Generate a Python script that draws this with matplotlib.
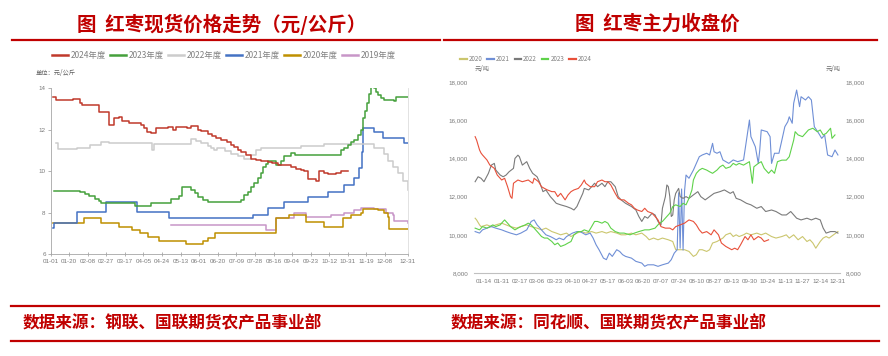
import matplotlib
matplotlib.use("Agg")
import matplotlib.pyplot as plt
from matplotlib import font_manager
from matplotlib.lines import Line2D
import pandas as pd

plt.rcParams['font.family'] = ['Noto Sans CJK SC', 'DejaVu Sans']
names = {f.name for f in font_manager.fontManager.ttflist}
tick_font = 'Liberation Sans Narrow' if 'Liberation Sans Narrow' in names else 'Liberation Sans'

RED = '#c00000'

# ---- left: spot price, yuan/kg, day of year (2024 calendar)
spot_2024_day = [3, 6, 23, 30, 32, 50, 60, 65, 70, 73, 80, 93, 96, 99, 103, 108, 120, 125, 128, 140, 144, 151, 154,
                 161, 165, 169, 174, 180, 185, 188, 192, 195, 200, 205, 210, 215, 222, 226, 233, 239, 246, 251, 256,
                 259, 263, 271, 274, 280, 284, 292, 297, 304]
spot_2024_val = [13.58, 13.4, 13.48, 13.3, 13.18, 12.86, 12.2, 12.55, 12.6, 12.4, 12.3, 12.2, 12.05, 11.9, 11.85, 12.05,
                 12.1, 12.0, 12.1, 12.05, 12.15, 12.0, 11.95, 11.8, 11.7, 11.6, 11.5, 11.4, 11.25, 11.15, 11.0, 10.9,
                 10.75, 10.6, 10.55, 10.5, 10.45, 10.4, 10.3, 10.3, 10.2, 10.1, 10.05, 10.0, 9.6, 9.5, 10.0, 9.9, 9.85,
                 9.9, 10.0, 10.0]
spot_2023_day = [4, 27, 30, 35, 39, 45, 50, 52, 86, 103, 121, 123, 131, 134, 141, 144, 148, 151, 156, 161, 188, 195,
                 198, 202, 205, 208, 212, 215, 217, 220, 222, 229, 231, 236, 239, 246, 250, 290, 297, 300, 304, 307,
                 310, 314, 317, 320, 322, 324, 326, 328, 331, 333, 335, 338, 341, 351, 353, 365]
spot_2023_val = [9.05, 9.05, 9.0, 8.9, 8.8, 8.65, 8.55, 8.47, 8.3, 8.45, 8.45, 8.65, 8.8, 9.25, 9.25, 9.1, 8.95, 8.77,
                 8.6, 8.5, 8.5, 8.6, 8.84, 9.0, 9.24, 9.4, 9.65, 9.9, 10.2, 10.35, 10.5, 10.5, 10.3, 10.5, 10.7, 10.85,
                 10.78, 10.78, 11.0, 11.1, 11.25, 11.4, 11.5, 11.75, 11.97, 12.55, 12.9, 13.27, 13.7, 14.06, 14.0, 13.8,
                 13.66, 13.5, 13.42, 13.37, 13.58, 13.58]
spot_2022_day = [6, 8, 27, 40, 52, 60, 100, 104, 106, 141, 144, 149, 154, 161, 164, 167, 170, 174, 178, 185, 192, 198,
                 205, 210, 215, 246, 256, 280, 325, 331, 336, 341, 345, 350, 355, 360, 365]
spot_2022_val = [11.35, 11.07, 11.12, 11.25, 11.4, 11.35, 11.35, 11.0, 11.3, 11.3, 11.55, 11.45, 11.35, 11.2, 11.1,
                 11.0, 11.1, 11.1, 10.95, 10.8, 10.7, 10.6, 10.75, 11.0, 11.1, 11.1, 11.2, 11.3, 11.3, 11.1, 11.1, 10.8,
                 10.5, 10.2, 9.9, 9.5, 9.1]
spot_2021_day = [3, 4, 27, 57, 88, 121, 207, 222, 239, 263, 284, 300, 310, 315, 318, 320, 331, 340, 361, 365]
spot_2021_val = [7.25, 7.5, 8.02, 8.52, 8.02, 7.73, 7.88, 8.2, 8.52, 8.76, 9.0, 9.33, 9.65, 10.14, 10.9, 12.07, 11.9,
                 11.6, 11.36, 11.36]
spot_2020_day = [3, 34, 52, 70, 83, 91, 100, 111, 139, 156, 161, 168, 231, 244, 261, 280, 299, 307, 317, 320, 335,
                 341, 345, 346, 365]
spot_2020_val = [7.5, 7.73, 7.5, 7.32, 7.16, 7.03, 6.83, 6.62, 6.48, 6.62, 6.79, 7.03, 7.73, 7.88, 7.56, 7.32, 7.73,
                 7.88, 7.96, 8.17, 8.12, 7.96, 7.8, 7.2, 7.2]
spot_2019_day = [123, 220, 231, 249, 261, 287, 300, 310, 317, 331, 343, 350, 351, 365]
spot_2019_val = [7.4, 7.16, 7.73, 8.0, 7.8, 7.88, 7.96, 8.1, 8.2, 8.15, 7.96, 7.88, 7.6, 7.5]

spot_labels = ['2024年度', '2023年度', '2022年度', '2021年度', '2020年度', '2019年度']
spot_colors = ['#c0392b', '#45a03c', '#cccccc', '#4472c4', '#bf9000', '#c896c8']
spot_ticks = ['01-01', '01-20', '02-08', '02-27', '03-17', '04-05', '04-24', '05-13', '06-01', '06-20',
              '07-09', '07-28', '08-16', '09-04', '09-23', '10-12', '10-31', '11-19', '12-08', '12-31']

# ---- right: futures main contract close, yuan/ton, trading day index
fut_2024_day = [1, 2, 4, 5, 6, 9, 11, 14, 16, 19, 21, 23, 25, 26, 27, 30, 33, 37, 40, 41, 44, 46, 48, 50, 53, 55, 57,
                59, 62, 64, 66, 68, 71, 73, 75, 76, 79, 82, 84, 87, 89, 91, 93, 96, 98, 100, 102, 105, 107, 109, 111,
                114, 116, 118, 121, 123, 125, 127, 130, 133, 135, 137, 140, 143, 146, 149, 151, 153, 155, 158, 161, 163,
                166, 168, 171, 175, 177, 179, 181, 184, 186, 188, 190, 193, 195, 197, 200]
fut_2024_val = [15140, 14960, 14440, 14280, 14180, 13920, 13650, 13480, 13130, 12870, 12960, 12520, 12000, 11910,
                12700, 12870, 12780, 12870, 12700, 12960, 12780, 12520, 12430, 12350, 12260, 12260, 12000, 12170,
                11830, 12090, 12260, 12350, 12430, 12610, 12870, 12700, 12520, 12520, 12780, 12870, 12780, 12780,
                12610, 12170, 11910, 11830, 11830, 11650, 11570, 11390, 11300, 11220, 11390, 11220, 11130, 10960,
                10780, 10430, 10350, 10350, 10260, 10430, 10520, 10610, 10780, 10700, 10520, 10260, 10090, 10170,
                10000, 10260, 10000, 9570, 9390, 9220, 9300, 9220, 9480, 9910, 9740, 10000, 9740, 9910, 9830, 9650,
                9740]
fut_2023_day = [1, 4, 6, 9, 11, 13, 15, 18, 20, 21, 23, 25, 28, 30, 32, 35, 37, 39, 41, 44, 46, 48, 50, 53, 55, 57,
                59, 62, 64, 66, 68, 71, 73, 75, 78, 80, 82, 84, 87, 89, 91, 93, 96, 99, 102, 106, 109, 112, 116, 119,
                123, 126, 128, 131, 133, 135, 137, 140, 142, 144, 146, 148, 149, 151, 153, 155, 158, 160, 162, 165,
                167, 169, 171, 174, 176, 178, 180, 183, 185, 187, 189, 190, 193, 195, 197, 200, 202, 204, 206, 209,
                212, 214, 217, 218, 220, 223, 227, 230, 233, 235, 237, 239, 242, 243, 245]
fut_2023_val = [10350, 10260, 10430, 10350, 10430, 10520, 10430, 10520, 10700, 10780, 10610, 10430, 10260, 10350,
                10430, 10520, 10610, 10520, 10350, 10090, 9910, 9830, 9830, 9650, 9480, 9570, 9390, 9480, 9570, 9650,
                10000, 10170, 10170, 10260, 10170, 10430, 10700, 10700, 10610, 10700, 10610, 10350, 10170, 10090,
                10090, 10000, 10090, 10170, 10260, 10260, 10350, 10610, 10700, 10960, 11130, 11480, 11570, 11480,
                11650, 11570, 11910, 12350, 12870, 13220, 13390, 13480, 13390, 13300, 13220, 13390, 13560, 13650,
                13480, 13560, 13740, 13650, 13740, 13650, 13740, 13830, 12700, 13560, 13740, 13830, 13480, 13220,
                13390, 13220, 13830, 13910, 13910, 14090, 14960, 15400, 15230, 15140, 15490, 15580, 15400, 15490,
                15230, 15310, 15580, 15050, 15230]
fut_2022_day = [1, 3, 5, 7, 10, 12, 14, 15, 18, 20, 22, 24, 27, 28, 30, 31, 33, 36, 38, 40, 43, 45, 47, 49, 52, 54,
                56, 59, 63, 66, 68, 70, 72, 74, 75, 78, 80, 82, 84, 87, 89, 91, 93, 96, 98, 100, 103, 107, 110, 112,
                114, 116, 118, 121, 123, 125, 127, 128, 130, 131, 132, 133, 134, 135, 136, 137, 139, 140, 142, 144,
                146, 149, 152, 154, 157, 160, 163, 167, 170, 174, 176, 178, 181, 185, 188, 192, 195, 198, 202, 205,
                209, 212, 215, 219, 222, 226, 229, 232, 235, 237, 239, 242, 245, 247]
fut_2022_val = [12780, 13040, 12960, 12780, 13220, 13650, 13740, 13390, 13130, 13040, 13130, 13300, 13480, 14000,
                14170, 14090, 13650, 13830, 13480, 13220, 13040, 12700, 12260, 12350, 12000, 11830, 11650, 11570,
                11480, 11390, 11300, 11480, 11830, 12170, 12430, 12350, 12520, 12700, 12520, 12700, 12520, 12780,
                12780, 12520, 12000, 11830, 11650, 11480, 11300, 10960, 10700, 10960, 10870, 11130, 11040, 10700,
                10520, 11390, 12000, 12610, 12520, 12000, 10960, 11040, 11830, 12170, 12430, 12000, 11910, 12000,
                11910, 12090, 12260, 12000, 11830, 12000, 12170, 12260, 12350, 12170, 12260, 11910, 11830, 11650,
                11570, 11390, 11480, 11220, 11300, 11220, 11040, 11040, 11220, 10870, 10780, 10870, 10780, 10870,
                10780, 10350, 10090, 10170, 10170, 10090]
fut_2021_day = [1, 4, 6, 9, 12, 15, 19, 22, 25, 29, 32, 36, 39, 41, 43, 45, 47, 49, 52, 54, 56, 58, 61, 63, 65, 67,
                70, 72, 74, 76, 79, 81, 83, 85, 88, 90, 92, 94, 97, 99, 101, 103, 107, 110, 114, 116, 118, 122, 125,
                128, 132, 134, 136, 138, 139, 140, 141, 142, 143, 144, 146, 149, 151, 153, 155, 158, 160, 162, 163,
                165, 167, 169, 173, 176, 179, 183, 185, 187, 188, 191, 193, 194, 195, 199, 201, 202, 204, 207, 209,
                211, 213, 214, 216, 217, 219, 221, 222, 225, 227, 229, 231, 234, 236, 238, 240, 243, 245, 247]
fut_2021_val = [10170, 10090, 10260, 10350, 10430, 10350, 10260, 10170, 10090, 10000, 10090, 10260, 10700, 10780,
                10520, 10350, 10170, 10000, 9910, 9830, 9740, 9830, 9740, 9910, 10000, 10090, 10170, 10170, 10090,
                10000, 10090, 9830, 9480, 9220, 8780, 8700, 9040, 8870, 9220, 9130, 8960, 8870, 8780, 8610, 8520,
                8350, 8430, 8430, 8350, 8430, 8520, 8700, 9040, 9220, 12200, 9300, 12400, 9200, 12300, 13130, 12960,
                13390, 13740, 14090, 14180, 14270, 14180, 14790, 14350, 14270, 14350, 13920, 13740, 13920, 13830,
                13920, 14960, 16010, 15140, 14610, 13740, 14440, 15490, 15400, 15140, 13740, 14270, 14270, 14960,
                15660, 15920, 16180, 15840, 16890, 17580, 16710, 17230, 17060, 17230, 17060, 15660, 15310, 15050,
                15230, 14180, 14090, 14440, 14180]
fut_2020_day = [1, 2, 4, 5, 9, 12, 15, 19, 22, 25, 29, 32, 36, 39, 43, 46, 49, 53, 56, 59, 63, 66, 70, 73, 76, 80,
                83, 87, 90, 93, 97, 100, 103, 107, 110, 114, 117, 119, 122, 125, 128, 132, 135, 137, 140, 143, 146,
                149, 151, 153, 155, 158, 160, 162, 165, 167, 169, 171, 174, 176, 178, 180, 183, 185, 188, 192, 195,
                198, 202, 205, 209, 212, 214, 217, 220, 223, 226, 228, 230, 232, 235, 237, 239, 241, 244, 247]
fut_2020_val = [10870, 10780, 10520, 10430, 10520, 10430, 10520, 10610, 10520, 10430, 10350, 10430, 10520, 10430,
                10350, 10260, 10350, 10170, 10090, 10000, 10090, 9910, 10090, 10170, 10090, 10170, 10090, 10170,
                10090, 10170, 10090, 10000, 10000, 10090, 10000, 10090, 9910, 9740, 9830, 9740, 9830, 9740, 9650,
                9220, 9220, 9220, 9130, 8870, 8960, 9220, 9220, 9130, 9220, 9570, 9650, 9740, 9830, 10000, 10090,
                9910, 10000, 9910, 10000, 10090, 10000, 10090, 10000, 10090, 9910, 9830, 9910, 10000, 9830, 10000,
                9740, 9910, 9650, 9740, 9570, 9300, 9650, 9830, 9910, 9830, 10000, 10170]

fut_labels = ['2020', '2021', '2022', '2023', '2024']
fut_colors = ['#cbc66e', '#6f8fd6', '#7a7a7a', '#5fd24a', '#e8503a']
fut_ticks = ['01-14', '01-31', '02-17', '03-06', '03-23', '04-10', '04-27', '05-17', '06-03', '06-20', '07-07',
             '07-24', '08-10', '08-27', '09-13', '09-30', '10-24', '11-13', '11-27', '12-14', '12-31']


def style_ticklabels(labels):
    for lab in labels:
        lab.set_fontfamily(tick_font)
        lab.set_fontsize(4.5)
        lab.set_color('#7a7a7a')


fig = plt.figure(figsize=(8.88, 3.56), dpi=100)

# titles and rules
fig.text(0.25, 0.932, '图  红枣现货价格走势（元/公斤）', color=RED, fontsize=14, fontweight='bold',
         ha='center', va='center')
fig.text(0.74, 0.932, '图  红枣主力收盘价', color=RED, fontsize=14, fontweight='bold', ha='center', va='center')
for x0, x1 in [(0.0135, 0.4955), (0.5, 0.9876)]:
    fig.add_artist(Line2D([x0, x1], [0.887, 0.887], color=RED, lw=1.6))
for y in [0.1404, 0.0421]:
    fig.add_artist(Line2D([0.012, 0.99], [y, y], color=RED, lw=1.6))
fig.text(0.025, 0.0927, '数据来源：钢联、国联期货农产品事业部', color=RED, fontsize=12, fontweight='bold', va='center')
fig.text(0.507, 0.0927, '数据来源：同花顺、国联期货农产品事业部', color=RED, fontsize=12, fontweight='bold', va='center')

# left chart
ax1 = fig.add_axes([0.0569, 0.2865, 0.402, 0.4663])
spot_days = [spot_2024_day, spot_2023_day, spot_2022_day, spot_2021_day, spot_2020_day, spot_2019_day]
spot_vals = [spot_2024_val, spot_2023_val, spot_2022_val, spot_2021_val, spot_2020_val, spot_2019_val]
spot_handles = []
for i in range(5, -1, -1):
    ln, = ax1.plot(spot_days[i], spot_vals[i], drawstyle='steps-post', color=spot_colors[i], lw=1.1)
    spot_handles.insert(0, ln)
ax1.set_xlim(0, 365)
ax1.set_ylim(6, 14)
ax1.set_yticks([6, 8, 10, 12, 14])
tick_pos = [pd.Timestamp('2024-' + t).dayofyear - 1 for t in spot_ticks]
ax1.set_xticks(tick_pos)
ax1.set_xticklabels(spot_ticks)
style_ticklabels(ax1.get_xticklabels() + ax1.get_yticklabels())
ax1.tick_params(axis='x', direction='inout', length=3, width=0.6, color='#a6a6a6', pad=2)
ax1.tick_params(axis='y', direction='out', length=2, width=0.6, color='#a6a6a6', pad=1.5)
ax1.spines['top'].set_visible(False)
ax1.spines['left'].set_color('#a6a6a6')
ax1.spines['bottom'].set_color('#a6a6a6')
ax1.spines['right'].set_color('#dddddd')
for s in ax1.spines.values():
    s.set_linewidth(0.6)
leg1 = fig.legend(spot_handles, spot_labels, loc='center', bbox_to_anchor=(0.252, 0.845), ncol=6, frameon=False,
                  fontsize=6, handlelength=1.9, handletextpad=0.3, columnspacing=0.55, labelcolor='#808080')
for ln in leg1.get_lines():
    ln.set_linewidth(1.8)
fig.text(0.0405, 0.795, '单位：元/公斤', fontsize=4.5, color='#606060', va='center')

# right chart
ax2 = fig.add_axes([0.5334, 0.2331, 0.4127, 0.5365])
fut_days = [fut_2020_day, fut_2021_day, fut_2022_day, fut_2023_day, fut_2024_day]
fut_vals = [fut_2020_val, fut_2021_val, fut_2022_val, fut_2023_val, fut_2024_val]
fut_handles = []
for i in range(5):
    ln, = ax2.plot(fut_days[i], fut_vals[i], color=fut_colors[i], lw=0.8)
    fut_handles.append(ln)
ax2.set_xlim(0, 248.5)
ax2.set_ylim(8000, 18000)
y_vals = [8000, 10000, 12000, 14000, 16000, 18000]
ax2.set_yticks(y_vals)
ax2.set_yticklabels([f'{v:,}' for v in y_vals])
ax2.set_xticks([7 + 12 * i for i in range(len(fut_ticks))])
ax2.set_xticklabels(fut_ticks)
ax2.tick_params(length=0, labelleft=True, labelright=True, pad=4)
style_ticklabels(ax2.get_xticklabels())
for t in ax2.yaxis.get_major_ticks():
    style_ticklabels([t.label1, t.label2])
for side in ['top', 'left', 'right']:
    ax2.spines[side].set_visible(False)
ax2.spines['bottom'].set_color('#c0c0c0')
ax2.spines['bottom'].set_linewidth(0.8)
leg2 = fig.legend(fut_handles, fut_labels, loc='center left', bbox_to_anchor=(0.512, 0.834), ncol=5, frameon=False,
                  fontsize=4.5, handlelength=1.0, handletextpad=0.35, columnspacing=0.8, labelcolor='#808080')
for ln in leg2.get_lines():
    ln.set_linewidth(1.6)
fig.text(0.535, 0.806, '元/吨', fontsize=4.5, color='#707070', va='center')
fig.text(0.93, 0.806, '元/吨', fontsize=4.5, color='#707070', va='center')

fig.savefig('out.png', dpi=100)
